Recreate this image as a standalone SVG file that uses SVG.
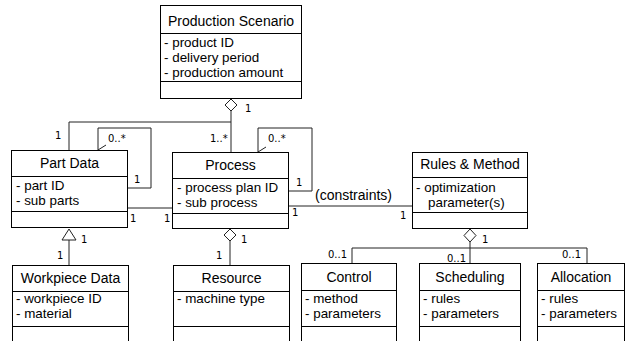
<svg xmlns="http://www.w3.org/2000/svg" width="626" height="341" viewBox="0 0 626 341">
<defs>
<style>
.box{fill:#fff;stroke:#000;stroke-width:1}
.sep{stroke:#000;stroke-width:1}
.t{font-family:"Liberation Sans",Arial,sans-serif;font-size:14px;fill:#000}
.a{font-family:"Liberation Sans",Arial,sans-serif;font-size:13.4px;fill:#000}
.h{text-anchor:middle}
.m{font-family:"DejaVu Sans",sans-serif;font-size:10px;fill:#000}
.c{fill:none;stroke:#222;stroke-width:1}
.dia{fill:#fff;stroke:#222;stroke-width:1}
</style>
<marker id="open" markerWidth="12" markerHeight="12" refX="6" refY="10" orient="auto" markerUnits="userSpaceOnUse">
<path d="M1,2 L6,10 L11,2" fill="none" stroke="#222" stroke-width="1"/>
</marker>
</defs>
<rect width="626" height="341" fill="#fff"/>
<g id="connectors">
<polyline class="c" points="69,150 69,122 231,122"/>
<line class="c" x1="231" y1="111" x2="231" y2="152"/>
<polygon class="dia" points="231,99 237,105 231,111 225,105"/>
<polyline class="c" points="127,188 151,188 151,128 98,128 98,150" marker-end="url(#open)"/>
<polyline class="c" points="288,191 312,191 312,128 258,128 258,152" marker-end="url(#open)"/>
<line class="c" x1="127" y1="208" x2="172" y2="208"/>
<line class="c" x1="288" y1="206" x2="412" y2="206"/>
<line class="c" x1="69" y1="240" x2="69" y2="265"/>
<polygon class="dia" points="69,229 76,240 62,240"/>
<line class="c" x1="230" y1="241" x2="230" y2="265"/>
<polygon class="dia" points="230,229 236,235 230,241 224,235"/>
<polyline class="c" points="352,263 352,248 587,248 587,263"/>
<line class="c" x1="470" y1="242" x2="470" y2="263"/>
<polygon class="dia" points="470,229 476,235.5 470,242 464,235.5"/>
<text class="m" x="245" y="112">1</text>
<text class="m" x="55" y="139">1</text>
<text class="m" x="108" y="142">0..*</text>
<text class="m" x="134" y="183">1</text>
<text class="m" x="210" y="142">1..*</text>
<text class="m" x="268" y="142">0..*</text>
<text class="m" x="296" y="186">1</text>
<text class="m" x="130" y="222">1</text>
<text class="m" x="164" y="222">1</text>
<text class="t" x="353.5" y="200" text-anchor="middle">(constraints)</text>
<text class="m" x="292" y="216">1</text>
<text class="m" x="400" y="219">1</text>
<text class="m" x="81" y="243">1</text>
<text class="m" x="57" y="259">1</text>
<text class="m" x="241" y="243">1</text>
<text class="m" x="216" y="259">1</text>
<text class="m" x="482" y="243">1</text>
<text class="m" x="328" y="258">0..1</text>
<text class="m" x="447" y="262">0..1</text>
<text class="m" x="562" y="258">0..1</text>
</g>
<g id="production-scenario">
<rect class="box" x="160.5" y="5.5" width="141" height="93"/>
<line class="sep" x1="160.5" y1="33.5" x2="301.5" y2="33.5"/>
<line class="sep" x1="160.5" y1="81.5" x2="301.5" y2="81.5"/>
<text class="t h" x="231" y="26">Production Scenario</text>
<text class="a" x="164" y="47">- product ID</text>
<text class="a" x="164" y="62">- delivery period</text>
<text class="a" x="164" y="77">- production amount</text>
</g>
<g id="part-data">
<rect class="box" x="11.5" y="150.5" width="116" height="77"/>
<line class="sep" x1="11.5" y1="176.5" x2="127.5" y2="176.5"/>
<line class="sep" x1="11.5" y1="211.5" x2="127.5" y2="211.5"/>
<text class="t h" x="69.5" y="168">Part Data</text>
<text class="a" x="16" y="190">- part ID</text>
<text class="a" x="16" y="205">- sub parts</text>
</g>
<g id="process">
<rect class="box" x="172.5" y="152.5" width="116" height="76"/>
<line class="sep" x1="172.5" y1="178.5" x2="288.5" y2="178.5"/>
<line class="sep" x1="172.5" y1="213.5" x2="288.5" y2="213.5"/>
<text class="t h" x="230.5" y="170">Process</text>
<text class="a" x="177" y="192">- process plan ID</text>
<text class="a" x="177" y="207">- sub process</text>
</g>
<g id="rules-method">
<rect class="box" x="412.5" y="152.5" width="115" height="76"/>
<line class="sep" x1="412.5" y1="177.5" x2="527.5" y2="177.5"/>
<line class="sep" x1="412.5" y1="212.5" x2="527.5" y2="212.5"/>
<text class="t h" x="470" y="169">Rules &amp; Method</text>
<text class="a" x="416" y="192">- optimization</text>
<text class="a" x="428" y="207">parameter(s)</text>
</g>
<g id="workpiece-data">
<rect class="box" x="12.5" y="265.5" width="116" height="80"/>
<line class="sep" x1="12.5" y1="291.5" x2="128.5" y2="291.5"/>
<line class="sep" x1="12.5" y1="326.5" x2="128.5" y2="326.5"/>
<text class="t h" x="70.5" y="283">Workpiece Data</text>
<text class="a" x="16" y="303">- workpiece ID</text>
<text class="a" x="16" y="318">- material</text>
</g>
<g id="resource">
<rect class="box" x="173.5" y="265.5" width="116" height="80"/>
<line class="sep" x1="173.5" y1="291.5" x2="289.5" y2="291.5"/>
<line class="sep" x1="173.5" y1="326.5" x2="289.5" y2="326.5"/>
<text class="t h" x="231.5" y="283">Resource</text>
<text class="a" x="177" y="303">- machine type</text>
</g>
<g id="control">
<rect class="box" x="301.5" y="263.5" width="95" height="82"/>
<line class="sep" x1="301.5" y1="290.5" x2="396.5" y2="290.5"/>
<line class="sep" x1="301.5" y1="326.5" x2="396.5" y2="326.5"/>
<text class="t h" x="349" y="282">Control</text>
<text class="a" x="305" y="303">- method</text>
<text class="a" x="305" y="318">- parameters</text>
</g>
<g id="scheduling">
<rect class="box" x="419.5" y="263.5" width="101" height="82"/>
<line class="sep" x1="419.5" y1="290.5" x2="520.5" y2="290.5"/>
<line class="sep" x1="419.5" y1="326.5" x2="520.5" y2="326.5"/>
<text class="t h" x="470" y="282">Scheduling</text>
<text class="a" x="423" y="303">- rules</text>
<text class="a" x="423" y="318">- parameters</text>
</g>
<g id="allocation">
<rect class="box" x="537.5" y="263.5" width="87" height="82"/>
<line class="sep" x1="537.5" y1="290.5" x2="624.5" y2="290.5"/>
<line class="sep" x1="537.5" y1="326.5" x2="624.5" y2="326.5"/>
<text class="t h" x="581" y="282">Allocation</text>
<text class="a" x="541" y="303">- rules</text>
<text class="a" x="541" y="318">- parameters</text>
</g>
</svg>
